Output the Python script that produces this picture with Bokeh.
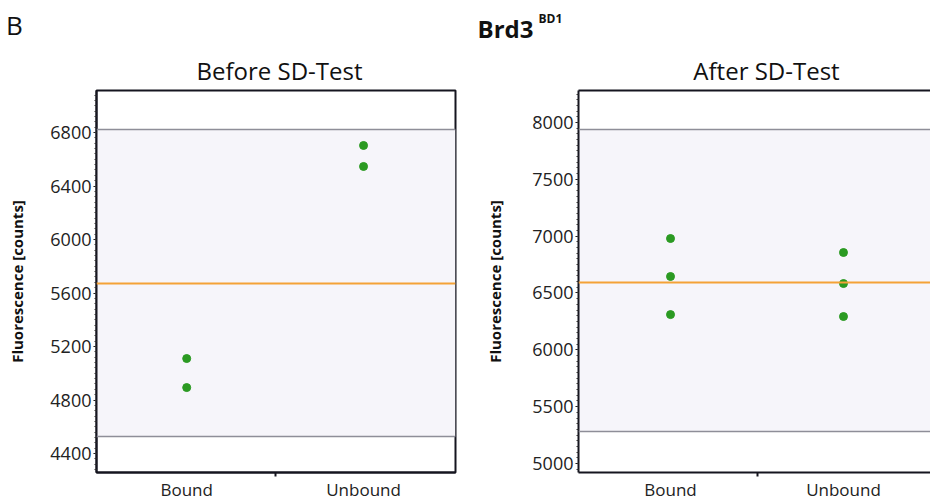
from bokeh.plotting import figure
from bokeh.models import Span, BoxAnnotation, FixedTicker, SingleIntervalTicker, Range1d, LinearAxis
from bokeh.layouts import row, column
from bokeh.core.properties import value
from bokeh.embed import file_html
from bokeh.resources import INLINE

# ---- data ----
categories = ["Bound", "Unbound"]
cat_pos = [1, 2]

before_bound = [5110, 4893]
before_unbound = [6703, 6546]
before_center = 5671
before_limits = [4527, 6822]
before_yrange = [4258, 7114]

after_bound = [6979, 6645, 6310]
after_unbound = [6856, 6583, 6293]
after_center = 6592
after_limits = [5281, 7938]
after_yrange = [4921, 8281]

panel_titles = ["Before SD-Test", "After SD-Test"]
panel_letter = "B"
protein = "Brd3"
protein_sup = "BD1"
y_label = "Fluorescence [counts]"
FONT = "Open Sans"
TXT = "#111111"
FRAME = "#15151f"

HEADER_H = 88


def make_panel(bound, unbound, center, limits, yrange, xrange, interval,
               width, mbl, mbr, label_standoff, open_right=False):
    p = figure(width=width, height=503 - HEADER_H, output_backend="svg", toolbar_location=None,
               x_range=Range1d(*xrange), y_range=Range1d(*yrange),
               min_border_left=mbl, min_border_right=mbr, min_border_top=2,
               min_border_bottom=31)
    p.xgrid.visible = False
    p.ygrid.visible = False
    p.background_fill_color = "white"
    p.border_fill_color = "white"

    band = BoxAnnotation(bottom=limits[0], top=limits[1], fill_color="#f6f5fa",
                         fill_alpha=1, line_color=None, level="underlay")
    p.add_layout(band)
    for lim in limits:
        p.add_layout(Span(location=lim, dimension="width", line_color="#8e8e98",
                          line_width=1.5))
    p.add_layout(Span(location=center, dimension="width", line_color="#f4a236",
                      line_width=2))

    xs = [cat_pos[0]] * len(bound) + [cat_pos[1]] * len(unbound)
    ys = list(bound) + list(unbound)
    p.scatter(xs, ys, size=8, color="#2b9a22", line_color="#2b9a22")

    # y axis
    ya = p.left[0]
    ya.ticker = SingleIntervalTicker(interval=interval, num_minor_ticks=10)
    ya.axis_label = y_label
    ya.axis_label_text_font = FONT
    ya.axis_label_text_font_style = "bold"
    ya.axis_label_text_font_size = "15px"
    ya.axis_label_text_color = TXT
    ya.axis_label_standoff = label_standoff
    ya.major_label_text_font = FONT
    ya.major_label_text_font_size = "18px"
    ya.major_label_text_color = "#222222"
    ya.major_label_standoff = 2
    ya.major_tick_out = 3
    ya.major_tick_in = 0
    ya.minor_tick_out = 2
    ya.minor_tick_in = 0
    ya.major_tick_line_color = "#111111"
    ya.minor_tick_line_color = "#333333"
    ya.axis_line_color = FRAME
    ya.axis_line_width = 2

    # x axis
    xa = p.below[0]
    xa.ticker = FixedTicker(ticks=cat_pos, minor_ticks=[(cat_pos[0] + cat_pos[1]) / 2])
    xa.major_label_overrides = {cat_pos[0]: categories[0], cat_pos[1]: categories[1]}
    xa.major_label_text_font = FONT
    xa.major_label_text_font_size = "17px"
    xa.major_label_text_color = "#222222"
    xa.major_label_standoff = 1
    xa.major_tick_out = 0
    xa.major_tick_in = 0
    xa.minor_tick_out = 4
    xa.minor_tick_in = 0
    xa.minor_tick_line_width = 2
    xa.minor_tick_line_color = FRAME
    xa.axis_line_color = FRAME
    xa.axis_line_width = 2

    if open_right:
        # frame open on the right: top border drawn as a bare axis line
        p.outline_line_color = None
        top = LinearAxis(ticker=FixedTicker(ticks=[]), axis_line_color=FRAME,
                         axis_line_width=2, major_tick_line_color=None,
                         minor_tick_line_color=None, major_tick_out=0, major_tick_in=0,
                         minor_tick_out=0, minor_tick_in=0, major_label_standoff=0,
                         major_label_text_font_size="0px")
        p.add_layout(top, "above")
    else:
        p.outline_line_color = FRAME
        p.outline_line_width = 2
        p.outline_line_alpha = 1
    return p


left = make_panel(before_bound, before_unbound, before_center, before_limits,
                  before_yrange, (0.49, 2.52), 400,
                  width=470, mbl=96, mbr=15, label_standoff=20)
right = make_panel(after_bound, after_unbound, after_center, after_limits,
                   after_yrange, (0.468, 2.503), 500,
                   width=460, mbl=108, mbr=0, label_standoff=24, open_right=True)

# header strip (page-pixel coordinates, y downwards)
header = figure(width=930, height=HEADER_H, output_backend="svg", toolbar_location=None,
                x_range=Range1d(0, 930), y_range=Range1d(HEADER_H, 0),
                x_axis_location=None, y_axis_location=None,
                min_border=0)
header.xgrid.visible = False
header.ygrid.visible = False
header.outline_line_color = None
header.background_fill_color = "white"
header.border_fill_color = "white"

header.text(x=[14], y=[24], text=[panel_letter], text_font=value(FONT),
            text_font_size="26px", text_align="center", text_baseline="middle",
            text_color=TXT)
header.text(x=[279, 766], y=[70, 70], text=panel_titles, text_font=value(FONT),
            text_font_size="24px", text_align="center", text_baseline="middle",
            text_color=TXT)
header.text(x=[477], y=[28], text=[protein], text_font=value(FONT),
            text_font_size="24px", text_font_style="bold", text_align="left",
            text_baseline="middle", text_color=TXT)
header.text(x=[538], y=[18], text=[protein_sup], text_font=value(FONT),
            text_font_size="12px", text_font_style="bold", text_align="left",
            text_baseline="middle", text_color=TXT)

layout = column(header, row(left, right))
open("out.html", "w").write(file_html(layout, INLINE))
